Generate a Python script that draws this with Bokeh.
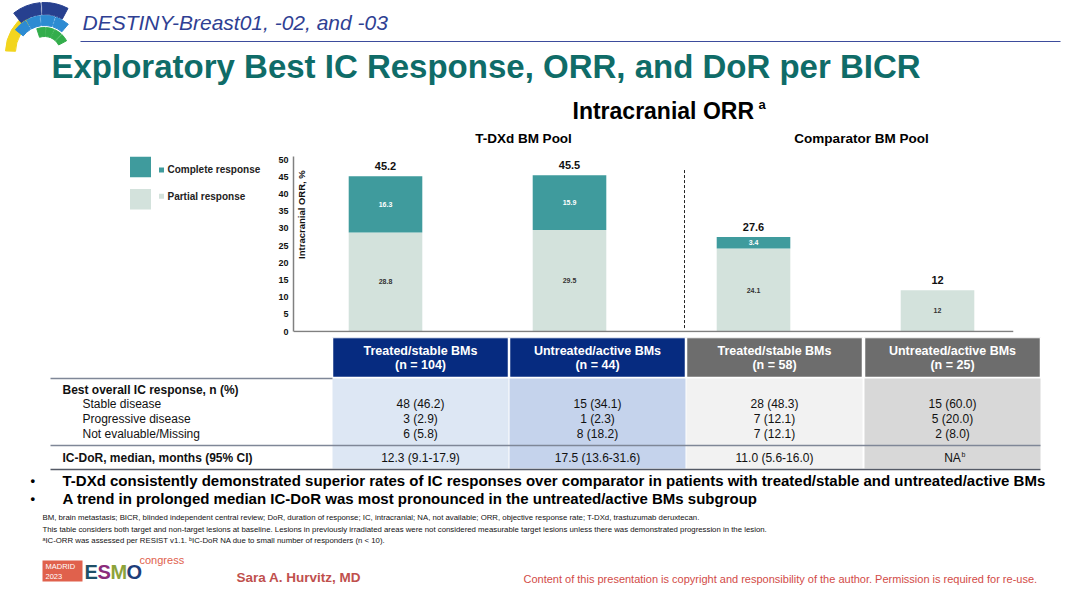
from bokeh.plotting import figure
from bokeh.layouts import column, row
from bokeh.models import Range1d, FixedTicker, Span
from bokeh.core.properties import value
from bokeh.embed import file_html
from bokeh.resources import INLINE

# ---------------- data ----------------
groups = ["Treated/stable BMs", "Untreated/active BMs", "Treated/stable BMs", "Untreated/active BMs"]
group_n = ["(n = 104)", "(n = 44)", "(n = 58)", "(n = 25)"]
pools = ["T-DXd BM Pool", "Comparator BM Pool"]
complete_response = [16.3, 15.9, 3.4, 0.0]
partial_response = [28.8, 29.5, 24.1, 12.0]
orr_total_labels = ["45.2", "45.5", "27.6", "12"]
cr_labels = ["16.3", "15.9", "3.4", ""]
pr_labels = ["28.8", "29.5", "24.1", "12"]
y_ticks = [0, 5, 10, 15, 20, 25, 30, 35, 40, 45, 50]

row_labels = ["Stable disease", "Progressive disease", "Not evaluable/Missing"]
stable_disease = ["48 (46.2)", "15 (34.1)", "28 (48.3)", "15 (60.0)"]
progressive_disease = ["3 (2.9)", "1 (2.3)", "7 (12.1)", "5 (20.0)"]
not_evaluable = ["6 (5.8)", "8 (18.2)", "7 (12.1)", "2 (8.0)"]
ic_dor = ["12.3 (9.1-17.9)", "17.5 (13.6-31.6)", "11.0 (5.6-16.0)", "NA"]
ic_dor_mark = ["", "", "", "b"]

bullets = [
    "T-DXd consistently demonstrated superior rates of IC responses over comparator in patients with treated/stable and untreated/active BMs",
    "A trend in prolonged median IC-DoR was most pronounced in the untreated/active BMs subgroup",
]
footnotes = [
    "BM, brain metastasis; BICR, blinded independent central review; DoR, duration of response; IC, intracranial; NA, not available; ORR, objective response rate; T-DXd, trastuzumab deruxtecan.",
    "This table considers both target and non-target lesions at baseline. Lesions in previously irradiated areas were not considered measurable target lesions unless there was demonstrated progression in the lesion.",
    "\u1d43IC-ORR was assessed per RESIST v1.1. \u1d47IC-DoR NA due to small number of responders (n < 10).",
]

# ---------------- styles ----------------
FONT = "Liberation Sans"
TEAL_DARK = "#3f9b9d"
TEAL_LIGHT = "#d3e2dc"
NAVY = "#062b80"
GREY_HDR = "#6d6d6d"
BODY_COLS = ["#dde7f4", "#c5d3ec", "#f2f2f2", "#d8d8d8"]
HDR_COLS = [NAVY, NAVY, GREY_HDR, GREY_HDR]


def blank(w, h, y0, y1):
    f = figure(width=w, height=h, x_range=Range1d(0, w), y_range=Range1d(y1, y0),
               output_backend="svg", toolbar_location=None, min_border=0,
               background_fill_color="white", border_fill_color="white")
    f.axis.visible = False
    f.grid.visible = False
    f.outline_line_color = None
    return f


def txt(f, x, y, t, size, color="#000000", style="normal", align="left",
        baseline="middle", font=FONT, **kw):
    f.text(x=[x], y=[y], text=[t], text_font=value(font), text_font_size=size,
           text_font_style=style, text_color=color, text_align=align,
           text_baseline=baseline, **kw)


def wedge(f, x, y, r0, r1, a0, a1, color):
    f.annular_wedge(x=x, y=y, inner_radius=r0, outer_radius=r1, start_angle=a0,
                    end_angle=a1, start_angle_units="deg", end_angle_units="deg",
                    color=color)


# ---------------- header ----------------
hdr = blank(1080, 150, 0, 150)
wedge(hdr, 50, 52, 35, 45, 122, 178, "#f2d51e")
cx, cy = 44, 52
for a0, a1 in [(62, 93), (95, 128)]:
    wedge(hdr, cx, cy, 38, 50, a0, a1, "#27408f")
for a0, a1 in [(50, 72), (74, 96), (98, 119), (121, 142)]:
    wedge(hdr, cx, cy, 27, 37, a0, a1, "#2d8bd2")
for a0, a1 in [(28, 46), (48, 66), (68, 86), (88, 108)]:
    wedge(hdr, cx, cy, 16, 25, a0, a1, "#33ad4b")
txt(hdr, 82, 22, "DESTINY-Breast01, -02, and -03", "21px", color="#2f3f93", style="italic")
hdr.segment(x0=[80], y0=[41], x1=[1060], y1=[41], line_color="#3d4c9c", line_width=1)
txt(hdr, 51, 66, "Exploratory Best IC Response, ORR, and DoR per BICR", "33px",
    color="#0f6c68", style="bold")
txt(hdr, 572, 110, "Intracranial ORR", "23px", style="bold")
txt(hdr, 758, 104, "a", "13px", style="bold")
txt(hdr, 523, 138, pools[0], "13.5px", style="bold", align="center")
txt(hdr, 861, 138, pools[1], "13.5px", style="bold", align="center")

# ---------------- legend ----------------
leg = blank(268, 187, 150, 337)
leg.rect(x=[140, 140], y=[167, 200], width=21, height=21,
         fill_color=[TEAL_DARK, TEAL_LIGHT], line_color=None)
leg.rect(x=[161, 161], y=[170, 197], width=5, height=5,
         fill_color=[TEAL_DARK, TEAL_LIGHT], line_color=None)
txt(leg, 167, 170, "Complete response", "10px", color="#222222", style="bold")
txt(leg, 167, 197, "Partial response", "10px", color="#222222", style="bold")

# ---------------- bar chart ----------------
xs = list(range(len(groups)))
chart = figure(width=812, height=187, x_range=Range1d(-0.5, 3.413),
               y_range=Range1d(-0.29, 52.62), output_backend="svg",
               toolbar_location=None, min_border_left=25, min_border_right=67,
               min_border_top=0, min_border_bottom=5,
               background_fill_color="white", border_fill_color="white")
chart.outline_line_color = None
chart.grid.visible = False
chart.xaxis.visible = False
ya = chart.yaxis[0]
ya.ticker = FixedTicker(ticks=y_ticks)
ya.bounds = (0, 51)
ya.major_tick_line_color = None
ya.minor_tick_line_color = None
ya.major_tick_out = 0
ya.major_label_standoff = 5
ya.major_label_text_font = FONT
ya.major_label_text_font_style = "bold"
ya.major_label_text_font_size = "9px"
ya.major_label_text_color = "#111111"
ya.axis_line_color = "#808080"
ya.axis_line_width = 1.5

tops = [p + c for p, c in zip(partial_response, complete_response)]
chart.vbar(x=xs, bottom=0, top=partial_response, width=0.40, fill_color=TEAL_LIGHT, line_color=None)
chart.vbar(x=xs, bottom=partial_response, top=tops, width=0.40, fill_color=TEAL_DARK, line_color=None)
chart.add_layout(Span(location=0, dimension="width", line_color="#808080", line_width=1.5))
chart.segment(x0=[1.625], y0=[1], x1=[1.625], y1=[47.5], line_color="#222222",
              line_width=1, line_dash="3 2")

chart.text(x=xs, y=tops, text=orr_total_labels, text_font=value(FONT), text_font_size="11px",
           text_font_style="bold", text_color="#111111", text_align="center",
           text_baseline="bottom", y_offset=-6)
chart.text(x=xs, y=[p / 2 for p in partial_response], text=pr_labels, text_font=value(FONT),
           text_font_size="7px", text_font_style="bold", text_color="#333333",
           text_align="center", text_baseline="middle")
chart.text(x=xs, y=[p + c / 2 for p, c in zip(partial_response, complete_response)], text=cr_labels,
           text_font=value(FONT), text_font_size="7px", text_font_style="bold",
           text_color="white", text_align="center", text_baseline="middle")
chart.text(x=[-0.455], y=[34], text=["Intracranial ORR, %"], text_font=value(FONT),
           text_font_size="9.5px", text_font_style="bold", text_color="#111111",
           text_align="center", text_baseline="middle", angle=1.5708)

# ---------------- table + footer ----------------
bot = blank(1080, 267, 337, 604)
col_left = [332, 509, 686, 864]
col_w = 176
centers = [l + col_w / 2 for l in col_left]
bot.quad(left=col_left, right=[l + col_w for l in col_left], top=[337] * 4, bottom=[377] * 4,
         fill_color=HDR_COLS, line_color="white", line_width=1.5)
bot.quad(left=col_left, right=[l + col_w for l in col_left], top=[378] * 4, bottom=[468] * 4,
         fill_color=BODY_COLS, line_color=None)
for i in range(4):
    txt(bot, centers[i], 350, groups[i], "12.5px", color="white", style="bold", align="center")
    txt(bot, centers[i], 364, group_n[i], "12.5px", color="white", style="bold", align="center")
bot.segment(x0=[50], y0=[378], x1=[332], y1=[378], line_color="#7f8797", line_width=1.5)
bot.segment(x0=[50], y0=[445], x1=[1040], y1=[445], line_color="#7f8797", line_width=1.5)
bot.segment(x0=[50], y0=[469], x1=[1040], y1=[469], line_color="#555a66", line_width=1.5)

txt(bot, 62, 389, "Best overall IC response, n (%)", "12px", style="bold", color="#111111")
for j, lab in enumerate(row_labels):
    txt(bot, 82, 403 + 15 * j, lab, "12px", color="#111111")
txt(bot, 62, 457, "IC-DoR, median, months (95% CI)", "12px", style="bold", color="#111111")
for j, vals in enumerate([stable_disease, progressive_disease, not_evaluable]):
    bot.text(x=centers, y=[403 + 15 * j] * 4, text=vals, text_font=value(FONT),
             text_font_size="12px", text_color="#111111", text_align="center",
             text_baseline="middle")
bot.text(x=centers, y=[457] * 4, text=ic_dor, text_font=value(FONT), text_font_size="12px",
         text_color="#111111", text_align="center", text_baseline="middle")
bot.text(x=[c + 9 for c in centers], y=[454] * 4, text=ic_dor_mark, text_font=value(FONT),
         text_font_size="7px", text_color="#111111", text_align="left", text_baseline="middle")

for k, b in enumerate(bullets):
    yb = 480 + 18 * k
    txt(bot, 30, yb, "\u2022", "13px", style="bold")
    txt(bot, 62, yb, b, "15px", style="bold")

for k, fn in enumerate(footnotes):
    txt(bot, 42, 517 + 11.5 * k, fn, "7.8px", color="#111111")

# ESMO logo
bot.quad(left=[42], right=[82], top=[560], bottom=[581], fill_color="#e0614c", line_color=None)
txt(bot, 45, 565.5, "MADRID", "7.5px", color="white")
txt(bot, 45, 575.5, "2023", "7.5px", color="white")
esmo_x = [84, 97, 110, 126]
esmo_c = ["#1f5068", "#8b2b7b", "#8da33a", "#1d3d7a"]
for xl, ch, cc in zip(esmo_x, "ESMO", esmo_c):
    txt(bot, xl, 571, ch, "20px", color=cc, style="bold")
txt(bot, 139, 559, "congress", "11px", color="#e0614c")

txt(bot, 236, 577, "Sara A. Hurvitz, MD", "13.5px", color="#c0504d", style="bold")
txt(bot, 523, 578, "Content of this presentation is copyright and responsibility of the author. Permission is required for re-use.",
    "11px", color="#d24b47")

layout = column(hdr, row(leg, chart), bot)
open("out.html", "w").write(file_html(layout, INLINE))
